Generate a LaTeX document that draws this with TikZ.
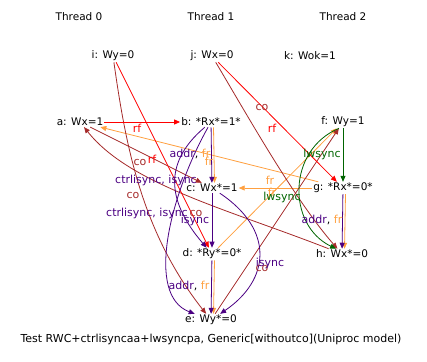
\documentclass[tikz,border=0pt]{standalone}
\usepackage{fontspec}
\setmainfont{DejaVu Sans}
\usetikzlibrary{arrows.meta}
\definecolor{rfc}{RGB}{255,0,0}
\definecolor{coc}{RGB}{165,42,42}
\definecolor{frc}{RGB}{255,160,64}
\definecolor{depc}{RGB}{75,0,130}
\definecolor{lwc}{RGB}{0,100,0}
\begin{document}
\begin{tikzpicture}[x=1pt,y=-1pt,
        every node/.style={inner sep=1pt,font=\fontsize{10.5}{12}\selectfont},
        lbl/.style={inner sep=0pt,font=\fontsize{11}{12}\selectfont},
        edge/.style={line width=0.8pt,-{Triangle[length=6pt,width=5pt]}},
        rfedge/.style={edge,draw=rfc},
        coedge/.style={edge,draw=coc},
        fredge/.style={edge,draw=frc},
        depedge/.style={edge,draw=depc},
        lwedge/.style={edge,draw=lwc}]
    \useasboundingbox (0,0) rectangle (427,361);

    \node (t0) at (79,17) {Thread 0};
    \node (t1) at (211,17) {Thread 1};
    \node (t2) at (343,17) {Thread 2};

    \node (i) at (113,56) {i: Wy=0};
    \node (j) at (212,56) {j: Wx=0};
    \node (k) at (310,56) {k: Wok=1};

    \node (a) at (80,122) {a: Wx=1};
    \node (b) at (211,122) {b: *Rx*=1*};
    \node (f) at (343,122) {f: Wy=1};

    \node (c) at (212,188) {c: Wx*=1};
    \node (g) at (343,188) {g: *Rx*=0*};

    \node (d) at (212,254) {d: *Ry*=0*};
    \node (h) at (342,254) {h: Wx*=0};

    \node (e) at (211,320) {e: Wy*=0};

    \node[lbl] (cap) at (211,339) {Test RWC+ctrlisyncaa+lwsyncpa, Generic[withoutco](Uniproc model)};

    % fr
    \draw[fredge] (g) -- (a);
    \draw[fredge] (g) -- (c);
    \draw[fredge] (d) -- (f);
    \draw[fredge] ([xshift=2.5pt]b.south) -- ([xshift=2.5pt]c.north);
    \draw[fredge] ([xshift=2.5pt]d.south) -- ([xshift=2.5pt]e.north);
    \draw[fredge] ([xshift=2.5pt]g.south) -- ([xshift=2.5pt]h.north);

    % co
    \draw[coedge] (i) .. controls (125,140) and (140,230) .. (e);
    \draw[coedge] (j) .. controls (250,120) and (295,200) .. (h);
    \draw[coedge] (a) -- (c);
    \draw[coedge] (h) .. controls (230,210) and (130,185) .. (a);
    \draw[coedge] (e) -- (f);

    % rf
    \draw[rfedge] (a) -- (b);
    \draw[rfedge] (i) -- (d);
    \draw[rfedge] (j) -- (g);

    % lwsync
    \draw[lwedge] (f) -- (g);
    \draw[lwedge] ([xshift=-4pt]f.south) .. controls (287,150) and (287,225) .. ([xshift=-6pt]h.north);

    % po dependencies
    \draw[depedge] (b) -- (c);
    \draw[depedge] (c) -- (d);
    \draw[depedge] (d) -- (e);
    \draw[depedge] (g) -- (h);
    \draw[depedge] (b) .. controls (160,165) and (170,205) .. (d);
    \draw[depedge] (b) .. controls (170,195) and (145,295) .. (e);
    \draw[depedge] (c) .. controls (275,230) and (270,280) .. (e);

    % edge labels
    \node[lbl,text=rfc] (l1) at (137,128) {rf};
    \node[lbl,text=rfc] (l2) at (152,159) {rf};
    \node[lbl,text=rfc] (l3) at (272,128) {rf};
    \node[lbl,text=coc] (l4) at (262,107) {co};
    \node[lbl,text=coc] (l5) at (140,162) {co};
    \node[lbl,text=coc] (l6) at (133,195) {co};
    \node[lbl,text=coc] (l7) at (196,213) {co};
    \node[lbl,text=coc] (l8) at (262,268) {co};
    \node[lbl,text=frc] (l9) at (209,161) {fr};
    \node[lbl,text=frc] (l10) at (270,180) {fr};
    \node[lbl,text=frc] (l11) at (272,192) {fr};
    \node[lbl,text=lwc] (l12) at (322,154) {lwsync};
    \node[lbl,text=lwc] (l13) at (282,197) {lwsync};
    \node[lbl] (l14) at (190,154) {\textcolor{depc}{addr}, \textcolor{frc}{fr}};
    \node[lbl] (l15) at (189,286) {\textcolor{depc}{addr}, \textcolor{frc}{fr}};
    \node[lbl] (l16) at (322,220) {\textcolor{depc}{addr}, \textcolor{frc}{fr}};
    \node[lbl,text=depc] (l17) at (156,180) {ctrlisync, isync};
    \node[lbl,text=depc] (l18) at (147,213) {ctrlisync, isync};
    \node[lbl,text=depc] (l19) at (195,220) {isync};
    \node[lbl,text=depc] (l20) at (270,263) {isync};
\end{tikzpicture}
\end{document}
